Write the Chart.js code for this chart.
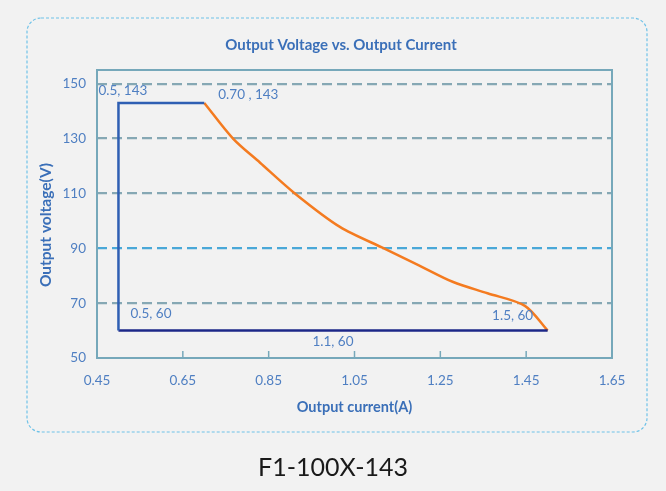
<!DOCTYPE html>
<html>
<head>
<meta charset="utf-8">
<script src="https://cdn.jsdelivr.net/npm/chart.js@4"></script>
<style>
  html, body { margin:0; padding:0; background:#f2f2f2; }
  #wrap { position:relative; width:666px; height:491px; }
  #c { position:absolute; left:0; top:0; }
  #caption { position:absolute; left:0; width:666px; top:451px; text-align:center;
    font-family: Lato, "Open Sans", sans-serif; font-size:25px; color:#1a1a1a; }
</style>
</head>
<body>
<div id="wrap">
  <canvas id="c" width="666" height="491"></canvas>
  <div id="caption">F1-100X-143</div>
</div>
<script>
// ---- Data ----
const chartTitle = "Output Voltage vs. Output Current";
const xTitle = "Output current(A)";
const yTitle = "Output voltage(V)";
const yTickValues = [50, 70, 90, 110, 130, 150];
const xTickValues = [0.45, 0.65, 0.85, 1.05, 1.25, 1.45, 1.65];

const blueX = [0.5, 0.5, 0.70];
const blueY = [60, 143, 143];
const navyX = [0.5, 1.5];
const navyY = [60, 60];
const orangeX = [0.70, 0.767, 0.83, 0.911, 1.016, 1.121, 1.20, 1.28, 1.36, 1.447, 1.50];
const orangeY = [143, 130, 121.2, 110, 97.8, 89.8, 83.8, 77.7, 73.6, 69, 60];

const pointLabels = ["0.5, 143", "0.70 , 143", "0.5, 60", "1.1, 60", "1.5, 60"];
const pointLabelX = [0.5, 0.70, 0.5, 1.1, 1.5];
const pointLabelY = [143, 143, 60, 60, 60];

// ---- styling (offsets in px, alignments) ----
const labelStyle = [
  {dx:-20, dy:-12, align:'left'},
  {dx:14, dy:-8, align:'left'},
  {dx:12, dy:-17, align:'left'},
  {dx:-43, dy:11, align:'center'},
  {dx:-35, dy:-15, align:'center'}
];

const FONT = 'Lato, "Open Sans", sans-serif';
const BLUE_TEXT = '#4f7fc2';
const TITLE_BLUE = '#3a6fb8';

const zip = (xs, ys) => xs.map((x, i) => ({x, y: ys[i]}));

const framePlugin = {
  id: 'frame',
  beforeDraw(chart) {
    const ctx = chart.ctx;
    ctx.save();
    ctx.fillStyle = '#f2f2f2';
    ctx.fillRect(0, 0, chart.width, chart.height);
    const x = 27, y = 18, w = 620, h = 414, r = 14;
    ctx.beginPath();
    ctx.moveTo(x + r, y);
    ctx.arcTo(x + w, y, x + w, y + h, r);
    ctx.arcTo(x + w, y + h, x, y + h, r);
    ctx.arcTo(x, y + h, x, y, r);
    ctx.arcTo(x, y, x + w, y, r);
    ctx.closePath();
    ctx.setLineDash([3, 2]);
    ctx.strokeStyle = '#6fc2e8';
    ctx.lineWidth = 1.2;
    ctx.stroke();
    ctx.setLineDash([]);
    // chart title
    ctx.fillStyle = TITLE_BLUE;
    ctx.textAlign = 'center';
    ctx.textBaseline = 'middle';
    ctx.font = 'bold 15px ' + FONT;
    ctx.fillText(chartTitle, 341, 45);
    // y axis title
    ctx.translate(46, 225);
    ctx.rotate(-Math.PI / 2);
    ctx.font = 'bold 15.5px ' + FONT;
    ctx.fillText(yTitle, 0, 0);
    ctx.restore();
  },
  afterDatasetsDraw(chart) {
    const ctx = chart.ctx;
    const a = chart.chartArea;
    const xs = chart.scales.x, ys = chart.scales.y;
    ctx.save();
    ctx.strokeStyle = '#76a8ba';
    ctx.lineWidth = 2;
    ctx.strokeRect(a.left, a.top, a.right - a.left, a.bottom - a.top);
    ctx.lineWidth = 1.5;
    xTickValues.forEach(v => {
      const px = xs.getPixelForValue(v);
      ctx.beginPath();
      ctx.moveTo(px, a.bottom);
      ctx.lineTo(px, a.bottom - 7);
      ctx.stroke();
    });
    ctx.font = '13.5px ' + FONT;
    ctx.fillStyle = BLUE_TEXT;
    ctx.textBaseline = 'middle';
    pointLabels.forEach((t, i) => {
      const px = xs.getPixelForValue(pointLabelX[i]);
      const py = ys.getPixelForValue(pointLabelY[i]);
      ctx.textAlign = labelStyle[i].align;
      ctx.fillText(t, px + labelStyle[i].dx, py + labelStyle[i].dy);
    });
    ctx.restore();
  }
};

new Chart(document.getElementById('c'), {
  type: 'scatter',
  data: {
    datasets: [
      { data: zip(blueX, blueY), showLine: true, borderColor: '#2f5fb3', borderWidth: 2.5, pointRadius: 0, tension: 0 },
      { data: zip(navyX, navyY), showLine: true, borderColor: '#1c2788', borderWidth: 2.5, pointRadius: 0, tension: 0 },
      { data: zip(orangeX, orangeY), showLine: true, borderColor: '#f47b20', borderWidth: 2.5, pointRadius: 0, tension: 0.3 }
    ]
  },
  options: {
    responsive: false,
    animation: false,
    devicePixelRatio: 1,
    layout: { padding: { left: 30, right: 54, top: 70, bottom: 73 } },
    plugins: {
      legend: { display: false },
      tooltip: { enabled: false },
      title: { display: false }
    },
    scales: {
      x: {
        type: 'linear', min: 0.45, max: 1.65,
        afterBuildTicks: s => { s.ticks = xTickValues.map(v => ({value: v})); },
        afterFit: s => { s.height = 60; },
        grid: { display: false, drawTicks: false },
        border: { display: false },
        ticks: { color: BLUE_TEXT, font: { family: FONT, size: 13.5 }, padding: 15,
          callback: v => v.toFixed(2) },
        title: { display: true, text: xTitle, color: TITLE_BLUE,
          font: { family: FONT, size: 14.5, weight: 'bold' }, padding: { top: 0, bottom: 2 } }
      },
      y: {
        type: 'linear', min: 50, max: 155,
        afterBuildTicks: s => { s.ticks = yTickValues.map(v => ({value: v})); },
        afterFit: s => { s.width = 67; },
        grid: {
          drawTicks: false,
          color: c => (c.tick && c.tick.value === 50) ? 'rgba(0,0,0,0)' : (c.tick && c.tick.value === 90 ? '#4aa8d8' : '#86a8b4'),
          lineWidth: 2.2
        },
        border: { display: false, dash: [10, 5] },
        ticks: { color: BLUE_TEXT, font: { family: FONT, size: 13.5 }, padding: 11 },
        title: { display: false }
      }
    }
  },
  plugins: [framePlugin]
});
</script>
</body>
</html>
